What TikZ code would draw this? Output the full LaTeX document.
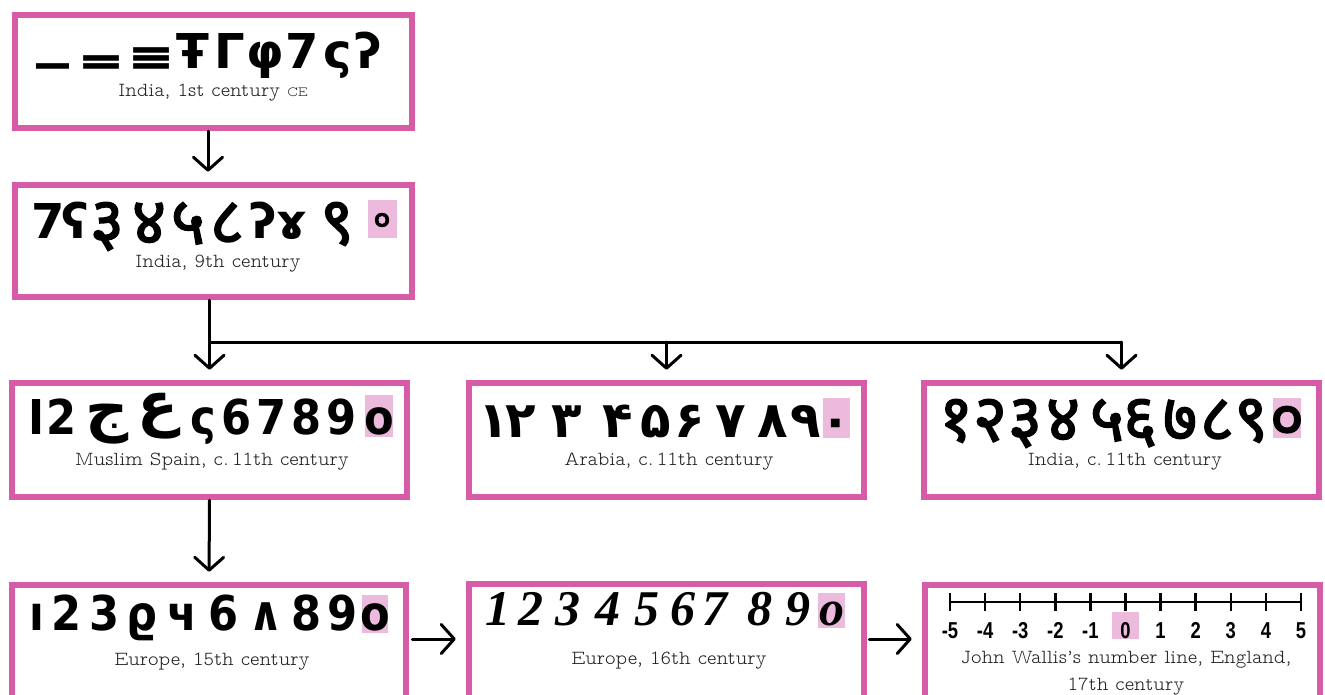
\documentclass[tikz,border=0pt]{standalone}
\usepackage{fontspec}
\usetikzlibrary{arrows.meta}
\newfontfamily\capf{Latin Modern Mono Prop Light}
\newfontfamily\gly{DejaVu Sans}
\newfontfamily\glyc{DejaVu Sans Condensed}
\newfontfamily\devf[Script=Devanagari,FakeBold=2.2]{Noto Sans}
\newfontfamily\arf[Script=Arabic]{DejaVu Sans}
\newfontfamily\calf{Liberation Serif}
\newfontfamily\numf[FakeStretch=0.8]{Liberation Sans}
\definecolor{bpink}{HTML}{D65CA8}
\definecolor{zpink}{HTML}{EBBADC}
\definecolor{capc}{HTML}{1E1E1E}
\newcommand{\brbar}[1]{\scalebox{#1}[1.0]{—}}
\newcommand{\brtwo}{\brbar{0.91}\llap{\raisebox{8.2pt}{\brbar{0.91}}}}
\newcommand{\brthree}{\brbar{0.91}\llap{\raisebox{8.2pt}{\brbar{0.91}}}\llap{\raisebox{16.4pt}{\brbar{0.91}}}}
\begin{document}
\begin{tikzpicture}[x=1pt,y=-1pt,
  box/.style={draw=bpink,line width=6.5pt,fill=white,inner sep=0pt},
  captxt/.style={anchor=base,font=\capf\fontsize{20}{27}\selectfont,text=capc,align=center,inner sep=0pt},
  gl/.style={anchor=base,inner sep=0pt,font=\gly\bfseries\fontsize{48}{48}\selectfont},
  glc/.style={anchor=base,inner sep=0pt,font=\glyc\bfseries\fontsize{48}{48}\selectfont},
  dv/.style={anchor=base,inner sep=0pt,font=\devf\fontsize{66}{66}\selectfont},
  dashglyph/.style={anchor=base,inner sep=0pt,font=\gly\bfseries\fontsize{44}{44}\selectfont},
  arr/.style={line width=3pt,line cap=round,-{Straight Barb[length=13pt,width=29pt,round]}},
  ln/.style={line width=3pt,line cap=round},
  nlab/.style={anchor=base,inner sep=0pt,font=\numf\bfseries\fontsize{23}{23}\selectfont}]
\useasboundingbox (0,0) rectangle (1325,695);
\clip (0,0) rectangle (1325,695);
\fill[white] (0,0) rectangle (1325,695);
% boxes
\node[box,minimum width=397pt,minimum height=113pt] (b1) at (213.5,71.5) {};
\node[box,minimum width=397pt,minimum height=112pt] (b2) at (213.5,241) {};
\node[box,minimum width=395pt,minimum height=114pt] (b3) at (209.5,440) {};
\node[box,minimum width=395pt,minimum height=114pt] (b4) at (666.5,440) {};
\node[box,minimum width=395pt,minimum height=114pt] (b5) at (1121.5,440) {};
\node[box,minimum width=394pt,minimum height=135pt] (b6) at (209,652.5) {};
\node[box,minimum width=395pt,minimum height=136pt] (b7) at (666.5,652) {};
\node[box,minimum width=395pt,minimum height=135pt] (b8) at (1122.5,652.5) {};
% zero highlights
\fill[zpink] (368,200) rectangle (397,238);
\fill[zpink] (365,395) rectangle (393,437);
\fill[zpink] (823,398) rectangle (850,438);
\fill[zpink] (1273,398) rectangle (1301,438);
\fill[zpink] (362,595) rectangle (388,633);
\fill[zpink] (818,593) rectangle (845,628);
\fill[zpink] (1112,612) rectangle (1139,639);
% row 1: India, 1st century
\node[dashglyph] (gd1) at (52.5,78.5) {\brbar{0.84}};
\node[dashglyph] (gd2) at (102,78.5) {\brtwo};
\node[dashglyph] (gd3) at (152,78.5) {\brthree};
\foreach \g/\x [count=\i] in {Ŧ/193, Γ/230, φ/265, 7/302, ς/338, ʔ/368}
  \node[gl] (ga\i) at (\x,69) {\g};
% row 2: India, 9th century
\foreach \g/\x [count=\i] in {7/48, ʕ/75, ʔ/263, ɤ/292}
  \node[gl] (gb\i) at (\x,238) {\g};
\foreach \g/\x [count=\i] in {३/107, ४/149, ५/188, ८/227, ९/337}
  \node[dv] (gbd\i) at (\x,244) {\g};
\node[dv,font=\devf\fontsize{34}{34}\selectfont] (gb0) at (382,231) {०};
% row 3: Muslim Spain
\foreach \g/\x [count=\i] in {I/37, 2/62, ς/203, 6/237, 7/272, 8/307, 9/342, o/379}
  \node[glc] (gc\i) at (\x,434) {\g};
\node[gl,font=\arf\bfseries\fontsize{60}{60}\selectfont] (gc9) at (107,429) {ج};
\node[gl,font=\arf\bfseries\fontsize{60}{60}\selectfont] (gc10) at (158,424) {ع};
% row 4: Arabia
\foreach \g/\x [count=\i] in {۱/494, ۲/521, ۳/567, ۴/618, ۵/656, ۶/690, ۷/731, ۸/773, ۹/806, ۰/836}
  \node[gl,font=\arf\bfseries\fontsize{50}{50}\selectfont] (gdd\i) at (\x,437) {\g};
% row 5: India, c. 11th century
\foreach \g/\x [count=\i] in {१/956, २/990, ३/1025, ४/1063, ५/1107, ६/1140, ७/1180, ८/1217, ९/1251, ०/1287}
  \node[dv] (ge\i) at (\x,441) {\g};
% row 6: Europe, 15th century
\foreach \g/\x [count=\i] in {ı/37, 2/67, 3/105, ϱ/142, ч/182, 6/224, ∧/266, 8/307, 9/343, o/375}
  \node[glc] (gf\i) at (\x,630) {\g};
% row 7: Europe, 16th century
\foreach \g/\x [count=\i] in {1/498, 2/531, 3/568, 4/608, 5/647, 6/683, 7/715, 8/760, 9/798, o/832}
  \node[gl,font=\calf\bfseries\itshape\fontsize{50}{50}\selectfont] (gg\i) at (\x,625) {\g};
% number line
\coordinate (nl0) at (950,602);
\coordinate (nl1) at (1301,602);
\draw[line width=2.5pt] (nl0) -- (nl1);
\foreach \n [count=\i from 0] in {-5,-4,-3,-2,-1,0,1,2,3,4,5}{
  \draw[line width=2.5pt] (950+35.1*\i,593) -- (950+35.1*\i,611);
  \node[nlab] (nn\i) at (950+35.1*\i,638) {\n};
}
% captions
\node[captxt] (c1) at (213,97) {India, 1st century {\fontsize{14}{14}\selectfont CE}};
\node[captxt] (c2) at (218,267) {India, 9th century};
\node[captxt] (c3) at (212,465) {Muslim Spain, c.\,11th century};
\node[captxt] (c4) at (669,465) {Arabia, c.\,11th century};
\node[captxt] (c5) at (1125,465) {India, c.\,11th century};
\node[captxt] (c6) at (212,665) {Europe, 15th century};
\node[captxt] (c7) at (669,664) {Europe, 16th century};
\node[captxt] (c8) at (1126,690) {John Wallis’s number line, England,\\17th century};
% connectors
\draw[arr,shorten >=10pt] ([xshift=-5.5pt]b1.south) -- ([xshift=-5.5pt]b1.south |- b2.north);
\draw[arr,shorten >=10pt] (b3.north |- b2.south) -- (b3.north);
\coordinate (j) at (209.5,342);
\draw[ln] (j) -- (j -| b5.north);
\draw[arr,shorten >=10pt] (j -| b4.north) -- (b4.north);
\draw[arr,shorten >=10pt] (j -| b5.north) -- (b5.north);
\draw[arr,shorten >=10pt] (b3.south) -- (b6.north);
\coordinate (h1) at (0,639);
\draw[arr,shorten <=3pt,shorten >=10pt] (b6.east |- h1) -- (b7.west |- h1);
\draw[arr,shorten <=2pt,shorten >=10pt] (b7.east |- h1) -- (b8.west |- h1);
\end{tikzpicture}
\end{document}
